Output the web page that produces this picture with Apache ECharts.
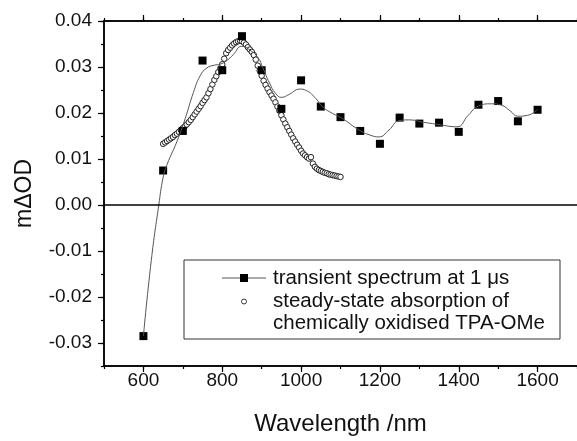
<!DOCTYPE html>
<html>
<head>
<meta charset="utf-8">
<script src="https://cdn.jsdelivr.net/npm/echarts@6/dist/echarts.min.js"></script>
<style>html,body{margin:0;padding:0;background:#fff}#c{width:577px;height:441px}</style>
</head>
<body>
<div id="c"></div>
<script>
// Transient spectrum at 1 us (square markers)
var transientNm = [600,650,700,750,800,850,900,950,1000,1050,1100,1150,1200,1250,1300,1350,1400,1450,1500,1550,1600];
var transientVal = [-0.0285,0.0075,0.0161,0.0314,0.0293,0.0367,0.0293,0.0209,0.0271,0.0214,0.0191,0.0161,0.0133,0.0190,0.0177,0.0179,0.0159,0.0218,0.0226,0.0182,0.0207];
// Smoothed guide curve through the transient points
var curveNm = [600,620,639,650,660,685,706,727,744,761,780,794,810,828,849,870,891,903,920,935,950,971,996,1013,1038,1055,1080,1105,1147,1175,1197,1223,1248,1273,1310,1349,1395,1424,1450,1483,1508,1530,1550,1575,1600];
var curveVal = [-0.0285,-0.0120,0.0000,0.0060,0.0088,0.0138,0.0188,0.0245,0.0281,0.0298,0.0304,0.0306,0.0313,0.0327,0.0345,0.0337,0.0320,0.0298,0.0265,0.0243,0.0234,0.0241,0.0252,0.0249,0.0231,0.0213,0.0199,0.0188,0.0163,0.0152,0.0148,0.0163,0.0183,0.0185,0.0180,0.0175,0.0170,0.0195,0.0215,0.0220,0.0217,0.0205,0.0193,0.0195,0.0208];
// Steady-state absorption of chemically oxidised TPA-OMe (open circles)
var steadyNm = [650,655,660,665,670,675,680,685,690,695,700,705,710,715,720,725,730,735,740,745,750,755,760,765,770,775,780,785,790,795,800,805,810,815,820,825,830,835,840,845,850,855,860,865,870,875,880,885,890,895,900,905,910,915,920,925,930,935,940,945,950,955,960,965,970,975,980,985,990,995,1000,1005,1010,1015,1020,1025,1030,1035,1040,1045,1050,1055,1060,1065,1070,1075,1080,1085,1090,1095,1100];
var steadyVal = [0.0133,0.0136,0.0139,0.0142,0.0145,0.0148,0.0152,0.0155,0.0159,0.0163,0.0167,0.0171,0.0175,0.0180,0.0185,0.0191,0.0197,0.0203,0.0209,0.0215,0.0222,0.0228,0.0234,0.0243,0.0252,0.0262,0.0272,0.0280,0.0289,0.0297,0.0306,0.0318,0.0330,0.0337,0.0342,0.0347,0.0351,0.0354,0.0356,0.0357,0.0356,0.0353,0.0349,0.0343,0.0338,0.0333,0.0326,0.0316,0.0303,0.0292,0.0281,0.0270,0.0261,0.0253,0.0245,0.0238,0.0231,0.0223,0.0214,0.0205,0.0195,0.0186,0.0177,0.0169,0.0161,0.0153,0.0145,0.0138,0.0131,0.0125,0.0118,0.0112,0.0108,0.0104,0.0101,0.0104,0.0090,0.0083,0.0079,0.0076,0.0074,0.0072,0.0070,0.0069,0.0067,0.0066,0.0065,0.0064,0.0063,0.0062,0.0061];
// Tick values
var xMajorTicks = [600,800,1000,1200,1400,1600];
var yMajorTicks = [-0.03,-0.02,-0.01,0,0.01,0.02,0.03,0.04];
var legendLabels = ['transient spectrum at 1 \u03bcs', 'steady-state absorption of', 'chemically oxidised TPA-OMe'];
var xTitle = 'Wavelength /nm';
var yTitle = 'm\u0394OD';

function zip(a, b) { return a.map(function (v, i) { return [v, b[i]]; }); }

var FONT = 'Liberation Sans, Arial, sans-serif';
var chart = echarts.init(document.getElementById('c'), null, {renderer: 'canvas'});
var line = {show: true, onZero: false, lineStyle: {color: '#000', width: 1.5}};
var tickStyle = {color: '#000', width: 1.2};
function xAx(pos, major, labels) {
  var a = {
    type: 'value', min: 500, max: 1700, interval: 100, position: pos,
    axisLine: line, splitLine: {show: false},
    axisTick: major ? {show: true, length: 6, lineStyle: tickStyle, customValues: xMajorTicks}
                    : {show: true, length: 3, lineStyle: tickStyle},
    axisLabel: {show: false}
  };
  if (labels) {
    a.axisLabel = {show: true, margin: 5, color: '#111', fontFamily: FONT, fontSize: 19,
      customValues: xMajorTicks, formatter: function (v) { return String(v); }};
    a.name = xTitle; a.nameLocation = 'middle'; a.nameGap = 46;
    a.nameTextStyle = {color: '#111', fontFamily: FONT, fontSize: 24};
  }
  return a;
}
function yAx(major) {
  var a = {
    type: 'value', min: -0.035, max: 0.04, interval: 0.005, position: 'left',
    axisLine: line, splitLine: {show: false},
    axisTick: major ? {show: true, length: 6, lineStyle: tickStyle, customValues: yMajorTicks}
                    : {show: true, length: 3, lineStyle: tickStyle},
    axisLabel: {show: false}
  };
  if (major) {
    a.axisLabel = {show: true, margin: 12, color: '#111', fontFamily: FONT, fontSize: 19,
      customValues: yMajorTicks, formatter: function (v) { return (Math.round(v * 100) / 100).toFixed(2); }};
    a.name = yTitle; a.nameLocation = 'middle'; a.nameGap = 68; a.nameRotate = 90;
    a.nameTextStyle = {color: '#111', fontFamily: FONT, fontSize: 23};
  }
  return a;
}
chart.setOption({
  animation: false,
  backgroundColor: '#fff',
  grid: {left: 104, top: 21, width: 476, height: 351, containLabel: false},
  xAxis: [xAx('bottom', true, true), xAx('bottom', false, false), xAx('top', true, false), xAx('top', false, false)],
  yAxis: [yAx(true), yAx(false)],
  series: [{
    type: 'line', name: 'curve', data: zip(curveNm, curveVal), smooth: 0.5,
    showSymbol: false, symbol: 'none', silent: true,
    lineStyle: {color: '#555', width: 1},
    markLine: {silent: true, symbol: ['none', 'none'], label: {show: false},
      lineStyle: {color: '#000', width: 1.5, type: 'solid'}, data: [{yAxis: 0}]}
  }, {
    type: 'scatter', name: 'steady-state', data: zip(steadyNm, steadyVal),
    symbol: 'circle', symbolSize: 5.5,
    itemStyle: {color: '#fff', borderColor: '#222', borderWidth: 1, opacity: 1}
  }, {
    type: 'scatter', name: 'transient', data: zip(transientNm, transientVal),
    symbol: 'rect', symbolSize: 8, itemStyle: {color: '#000', opacity: 1}
  }],
  graphic: [
    {type: 'rect', shape: {x: 184, y: 260, width: 376, height: 79}, style: {fill: '#fff', stroke: '#333', lineWidth: 1}, z: 100},
    {type: 'line', shape: {x1: 222, y1: 278, x2: 266, y2: 278}, style: {stroke: '#555', lineWidth: 1}, z: 101},
    {type: 'rect', shape: {x: 240, y: 274, width: 8, height: 8}, style: {fill: '#000'}, z: 102},
    {type: 'circle', shape: {cx: 244, cy: 301.5, r: 2.5}, style: {fill: '#fff', stroke: '#333', lineWidth: 1}, z: 102},
    {type: 'text', x: 273, y: 278, style: {text: legendLabels[0], fill: '#111', font: '20.5px ' + FONT, textVerticalAlign: 'middle'}, z: 102},
    {type: 'text', x: 273, y: 301, style: {text: legendLabels[1], fill: '#111', font: '20.5px ' + FONT, textVerticalAlign: 'middle'}, z: 102},
    {type: 'text', x: 273, y: 323, style: {text: legendLabels[2], fill: '#111', font: '20.5px ' + FONT, textVerticalAlign: 'middle'}, z: 102}
  ]
});
</script>
</body>
</html>
